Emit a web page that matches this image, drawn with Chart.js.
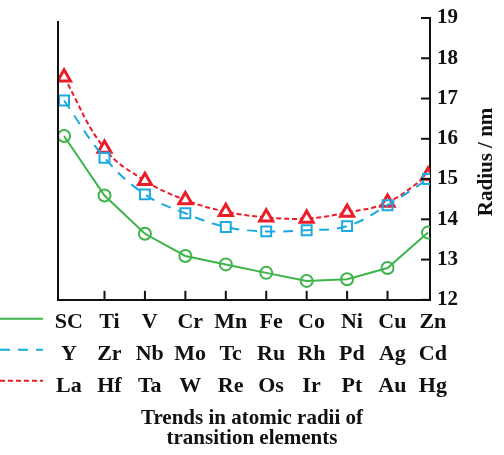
<!DOCTYPE html>
<html>
<head>
<meta charset="utf-8">
<script src="https://cdn.jsdelivr.net/npm/chart.js@4/dist/chart.umd.min.js"></script>
<style>
  body { margin: 0; background: #fff; }
  #wrap { width: 504px; height: 455px; }
</style>
</head>
<body>
<div id="wrap"><canvas id="myChart"></canvas></div>
<script>
// element rows, one per series (3d, 4d, 5d)
var row3d = ['SC', 'Ti', 'V', 'Cr', 'Mn', 'Fe', 'Co', 'Ni', 'Cu', 'Zn'];
var row4d = ['Y', 'Zr', 'Nb', 'Mo', 'Tc', 'Ru', 'Rh', 'Pd', 'Ag', 'Cd'];
var row5d = ['La', 'Hf', 'Ta', 'W', 'Re', 'Os', 'Ir', 'Pt', 'Au', 'Hg'];

// radius values
var radius3d = [16.07, 14.59, 13.64, 13.09, 12.88, 12.67, 12.47, 12.51, 12.79, 13.67];
var radius4d = [16.95, 15.53, 14.62, 14.15, 13.81, 13.70, 13.73, 13.83, 14.35, 15.00];
var radius5d = [17.53, 15.76, 14.96, 14.48, 14.19, 14.05, 14.02, 14.17, 14.42, 15.09];

var yTicks = [12, 13, 14, 15, 16, 17, 18, 19];

var serif = "'Liberation Serif', 'Times New Roman', serif";

function pts(vals) {
    return vals.map(function (v, i) { return { x: i, y: v }; });
}

// extra bits: left axis line, inward ticks, left legend lines, axis title
var extras = {
    id: 'extras',
    afterDraw: function (chart) {
        var ctx = chart.ctx;
        var a = chart.chartArea;
        var xs = chart.scales.x;
        var ys = chart.scales.y;
        ctx.save();
        ctx.strokeStyle = '#111';
        ctx.lineWidth = 2;
        ctx.beginPath();
        ctx.moveTo(a.left, a.top + 3);
        ctx.lineTo(a.left, a.bottom + 1);
        ctx.stroke();

        // inward ticks on bottom axis
        for (var i = 1; i < row3d.length - 1; i++) {
            var px = xs.getPixelForValue(i);
            ctx.beginPath();
            ctx.moveTo(px, a.bottom);
            ctx.lineTo(px, a.bottom - 9);
            ctx.stroke();
        }
        // inward ticks on right axis
        yTicks.forEach(function (t) {
            var py = ys.getPixelForValue(t);
            ctx.beginPath();
            ctx.moveTo(a.right, py);
            ctx.lineTo(a.right - 9, py);
            ctx.stroke();
        });

        // legend lines in front of the label rows
        chart.data.datasets.forEach(function (ds, k) {
            var y = xs.top + 19 + 31 * k;
            ctx.strokeStyle = ds.borderColor;
            ctx.lineWidth = 2;
            ctx.setLineDash(ds.borderDash || []);
            ctx.beginPath();
            ctx.moveTo(0, y);
            ctx.lineTo(43, y);
            ctx.stroke();
        });
        ctx.setLineDash([]);

        // right axis title, reading bottom to top
        ctx.translate(487, (a.top + a.bottom) / 2 + 3);
        ctx.rotate(-Math.PI / 2);
        ctx.fillStyle = '#111';
        ctx.font = 'bold 21px ' + serif;
        ctx.textAlign = 'center';
        ctx.textBaseline = 'middle';
        ctx.fillText('Radius / nm', 0, 0);
        ctx.restore();
    }
};

var ctx = document.getElementById('myChart').getContext('2d');
var chart = new Chart(ctx, {
    type: 'line',
    data: {
        datasets: [{
            label: '3d',
            data: pts(radius3d),
            borderColor: '#3db54a',
            backgroundColor: '#ffffff',
            borderWidth: 2,
            tension: 0,
            pointStyle: 'circle',
            pointRadius: 6,
            pointBorderWidth: 2,
            pointBackgroundColor: 'rgba(255,255,255,0)'
        }, {
            label: '4d',
            data: pts(radius4d),
            borderColor: '#1ba9e1',
            backgroundColor: '#ffffff',
            borderWidth: 2,
            borderDash: [10, 8],
            tension: 0.4,
            pointStyle: 'rect',
            pointRadius: 7,
            pointBorderWidth: 2,
            pointBackgroundColor: 'rgba(255,255,255,0)'
        }, {
            label: '5d',
            data: pts(radius5d),
            borderColor: '#ec1c28',
            backgroundColor: '#ffffff',
            borderWidth: 2,
            borderDash: [5, 3],
            tension: 0.4,
            pointStyle: 'triangle',
            pointRadius: 7.5,
            pointBorderWidth: 3,
            pointBackgroundColor: '#ffffff'
        }]
    },
    plugins: [extras],
    options: {
        responsive: true,
        maintainAspectRatio: false,
        animation: false,
        layout: { padding: { left: 0, top: 18, right: 0, bottom: 0 } },
        plugins: {
            legend: { display: false },
            tooltip: { enabled: false },
            title: {
                display: true,
                position: 'bottom',
                text: ['Trends in atomic radii of', 'transition elements'],
                color: '#111',
                font: { family: serif, size: 21, weight: 'bold', lineHeight: 0.98 },
                padding: { top: 4, bottom: 6 }
            }
        },
        scales: {
            x: {
                type: 'linear',
                min: -0.15,
                max: 9.05,
                afterBuildTicks: function (scale) {
                    // labels sit a little right of the points in the original
                    scale.ticks = row3d.map(function (c, i) { return { value: i + 0.12 }; });
                },
                afterFit: function (scale) { scale.height = 104; },
                grid: { display: false },
                border: { display: true, color: '#111', width: 2 },
                ticks: {
                    autoSkip: false,
                    maxRotation: 0,
                    padding: -2,
                    color: '#111',
                    font: { family: serif, size: 22, weight: 'bold', lineHeight: '32px' },
                    callback: function (v, i) {
                        return [row3d[i], row4d[i], row5d[i]];
                    }
                }
            },
            // empty left axis, only keeps room for the legend lines
            yl: {
                position: 'left',
                min: 12,
                max: 19,
                afterFit: function (scale) { scale.width = 58; },
                grid: { display: false },
                border: { display: false },
                ticks: { display: false }
            },
            y: {
                position: 'right',
                min: 12,
                max: 19,
                afterBuildTicks: function (scale) {
                    scale.ticks = yTicks.map(function (t) { return { value: t }; });
                },
                afterFit: function (scale) { scale.width = 74; },
                grid: { display: false },
                border: { display: true, color: '#111', width: 2 },
                ticks: {
                    padding: -1,
                    color: '#111',
                    font: { family: serif, size: 21, weight: 'bold' }
                }
            }
        }
    }
});
</script>
</body>
</html>
